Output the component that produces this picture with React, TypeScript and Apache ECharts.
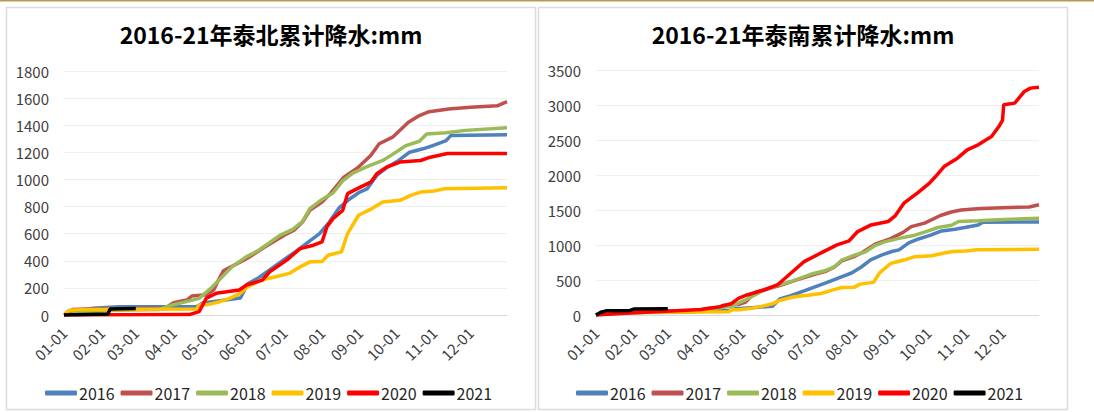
import React, { useEffect, useRef } from "react";
import * as echarts from "echarts";

const MONTH_DAYS = [31, 28, 31, 30, 31, 30, 31, 31, 30, 31, 30, 31];
const pad = (n: number) => (n < 10 ? "0" + n : "" + n);
const CATEGORIES: string[] = MONTH_DAYS.flatMap((n, m) =>
  Array.from({ length: n }, (_, i) => `${pad(m + 1)}-${pad(i + 1)}`)
);

const YEARS = ["2016", "2017", "2018", "2019", "2020", "2021"];
const COLORS = ["#4f81bd", "#c0504d", "#9bbb59", "#ffc000", "#ff0000", "#000000"];

const TITLE_NORTH = "2016-21年泰北累计降水:mm";
const TITLE_SOUTH = "2016-21年泰南累计降水:mm";

// 2016-2019 series (same in both panels)
const S2016: [string, number][] = [
  ["01-01", 0], ["01-10", 30], ["01-25", 50], ["02-15", 60], ["04-20", 62], ["04-25", 88],
  ["05-09", 105], ["05-26", 125], ["06-01", 230], ["06-10", 275], ["06-21", 345], ["07-01", 410],
  ["07-10", 466], ["07-19", 527], ["07-30", 600], ["08-07", 686], ["08-15", 790], ["08-24", 858],
  ["09-01", 907], ["09-07", 930], ["09-15", 1030], ["09-23", 1086], ["10-03", 1140], ["10-12", 1201],
  ["10-23", 1226], ["10-31", 1250], ["11-11", 1287], ["11-15", 1325], ["12-31", 1330],
];
const S2017: [string, number][] = [
  ["01-01", 0], ["01-08", 40], ["01-20", 45], ["03-25", 50], ["04-01", 90], ["04-12", 110],
  ["04-16", 140], ["04-28", 150], ["05-04", 184], ["05-08", 260], ["05-12", 326], ["05-26", 392],
  ["06-01", 420], ["06-15", 502], ["07-01", 589], ["07-09", 625], ["07-16", 686], ["07-22", 772],
  ["08-01", 833], ["08-08", 897], ["08-19", 1017], ["08-31", 1091], ["09-10", 1177], ["09-17", 1263],
  ["09-28", 1312], ["10-11", 1422], ["10-20", 1471], ["10-28", 1500], ["11-13", 1520], ["12-01", 1532],
  ["12-23", 1543], ["12-31", 1574],
];
const S2018: [string, number][] = [
  ["01-01", 0], ["01-20", 20], ["02-10", 35], ["03-20", 40], ["03-31", 74], ["04-10", 95],
  ["04-22", 123], ["05-03", 208], ["05-19", 355], ["05-30", 425], ["06-10", 478], ["06-27", 585],
  ["07-08", 632], ["07-16", 690], ["07-22", 785], ["07-31", 846], ["08-10", 900], ["08-18", 990],
  ["08-26", 1045], ["09-06", 1091], ["09-20", 1140], ["09-28", 1185], ["10-09", 1250], ["10-20", 1282],
  ["10-26", 1336], ["11-11", 1345], ["11-27", 1362], ["12-31", 1382],
];
const S2019: [string, number][] = [
  ["01-01", 0], ["01-05", 35], ["01-20", 40], ["04-20", 45], ["04-22", 74], ["04-28", 75],
  ["05-09", 98], ["05-17", 123], ["05-26", 160], ["06-01", 208], ["06-12", 257], ["06-24", 282],
  ["07-05", 307], ["07-14", 355], ["07-22", 392], ["08-01", 395], ["08-06", 441], ["08-17", 466],
  ["08-22", 601], ["08-31", 736], ["09-11", 785], ["09-20", 833], ["10-04", 846], ["10-13", 883],
  ["10-21", 907], ["11-01", 915], ["11-10", 932], ["12-31", 938],
];

// 泰北 2020 / 2021
const N2020: [string, number][] = [
  ["01-01", 0], ["04-14", 3], ["04-22", 25], ["04-28", 125], ["05-06", 160], ["05-25", 184],
  ["05-31", 221], ["06-13", 257], ["06-19", 319], ["07-03", 405], ["07-14", 490], ["07-25", 515],
  ["08-01", 539], ["08-05", 650], ["08-10", 711], ["08-18", 772], ["08-22", 895], ["08-30", 932],
  ["09-10", 980], ["09-15", 1042], ["09-23", 1091], ["10-04", 1128], ["10-21", 1140], ["10-29", 1164],
  ["11-12", 1192], ["12-31", 1192],
];
const N2021: [string, number][] = [
  ["01-01", 0], ["02-06", 8], ["02-08", 45], ["03-01", 48],
];

// 泰南 2020 / 2021
const S2020: [string, number][] = [
  ["01-01", 0], ["01-20", 20], ["02-28", 55], ["03-28", 80], ["04-13", 119], ["04-22", 160],
  ["04-28", 238], ["05-05", 286], ["05-19", 357], ["05-30", 429], ["06-10", 596], ["06-21", 762],
  ["07-07", 906], ["07-18", 1001], ["07-28", 1060], ["08-04", 1192], ["08-15", 1287], ["08-29", 1335],
  ["09-04", 1420], ["09-11", 1597], ["09-22", 1740], ["10-02", 1883], ["10-07", 1978], ["10-14", 2121],
  ["10-25", 2240], ["11-02", 2360], ["11-11", 2431], ["11-22", 2550], ["11-28", 2693], ["12-01", 2780],
  ["12-02", 3003], ["12-11", 3027], ["12-19", 3193], ["12-24", 3241], ["12-31", 3255],
];
const S2021: [string, number][] = [
  ["01-01", 0], ["01-05", 40], ["01-10", 62], ["01-29", 65], ["02-01", 85], ["03-01", 88],
];

const NORTH = [S2016, S2017, S2018, S2019, N2020, N2021];
const SOUTH = [S2016, S2017, S2018, S2019, S2020, S2021];

const FONT = '"Noto Sans CJK SC", "Noto Sans", sans-serif';

export default function App() {
  const ref = useRef<HTMLDivElement>(null);
  useEffect(() => {
    if (!ref.current) return;
    const chart = echarts.init(ref.current, undefined, { renderer: "svg" });
    const xAxis = (gridIndex: number) => ({
      type: "category",
      gridIndex,
      data: CATEGORIES,
      boundaryGap: false,
      axisLine: { lineStyle: { color: "#d9d9d9", width: 1 } },
      axisTick: { show: false },
      axisLabel: {
        interval: (_: number, v: string) => v.slice(3) === "01",
        rotate: 45,
        margin: 15,
        fontSize: 15,
        fontFamily: FONT,
        color: "#404040",
      },
      splitLine: { show: false },
    });
    const yAxis = (gridIndex: number, max: number, interval: number) => ({
      type: "value",
      gridIndex,
      min: 0,
      max,
      interval,
      axisLine: { show: false },
      axisTick: { show: false },
      axisLabel: {
        fontSize: 15,
        fontFamily: FONT,
        color: "#404040",
        margin: 15,
        formatter: (v: number) => String(v),
      },
      splitLine: { lineStyle: { color: "#efefef", width: 1 } },
    });
    const mkSeries = (sets: [string, number][][], idx: number) =>
      sets.map((d, i) => ({
        name: YEARS[i],
        type: "line",
        xAxisIndex: idx,
        yAxisIndex: idx,
        data: d,
        showSymbol: false,
        symbol: "none",
        lineStyle: { width: 3.5, color: COLORS[i] },
        itemStyle: { color: COLORS[i] },
      }));
    const legend = (left: number) => ({
      data: YEARS,
      left,
      top: 380,
      icon: "roundRect",
      itemWidth: 32,
      itemHeight: 5,
      itemGap: 6,
      textStyle: { fontSize: 16, fontFamily: FONT, color: "#262626", padding: [0, 0, 0, -3] },
    });
    chart.setOption({
      animation: false,
      backgroundColor: "#ffffff",
      color: COLORS,
      graphic: [
        { type: "rect", silent: true, shape: { x: 0, y: 0, width: 1094, height: 1.6 }, style: { fill: "#b8975a" } },
        { type: "rect", silent: true, shape: { x: 6.5, y: 7.5, width: 529, height: 402 }, style: { fill: "none", stroke: "#dcdcdc", lineWidth: 1.5 } },
        { type: "rect", silent: true, shape: { x: 538.5, y: 7.5, width: 529, height: 402 }, style: { fill: "none", stroke: "#dcdcdc", lineWidth: 1.5 } },
      ],
      title: [
        { text: TITLE_NORTH, left: 271, top: 22, textAlign: "center", padding: 0, textStyle: { fontSize: 23, fontWeight: "bold", fontFamily: FONT, color: "#000" } },
        { text: TITLE_SOUTH, left: 803, top: 22, textAlign: "center", padding: 0, textStyle: { fontSize: 23, fontWeight: "bold", fontFamily: FONT, color: "#000" } },
      ],
      legend: [legend(40), legend(571)],
      grid: [
        { left: 64, right: 587, top: 71, bottom: 97 },
        { left: 596, right: 55, top: 70, bottom: 97 },
      ],
      xAxis: [xAxis(0), xAxis(1)],
      yAxis: [yAxis(0, 1800, 200), yAxis(1, 3500, 500)],
      series: [...mkSeries(NORTH, 0), ...mkSeries(SOUTH, 1)],
    });
    return () => chart.dispose();
  }, []);
  return (
    <div
      ref={ref}
      style={{ position: "absolute", left: 0, top: 0, width: 1094, height: 412 }}
    />
  );
}
